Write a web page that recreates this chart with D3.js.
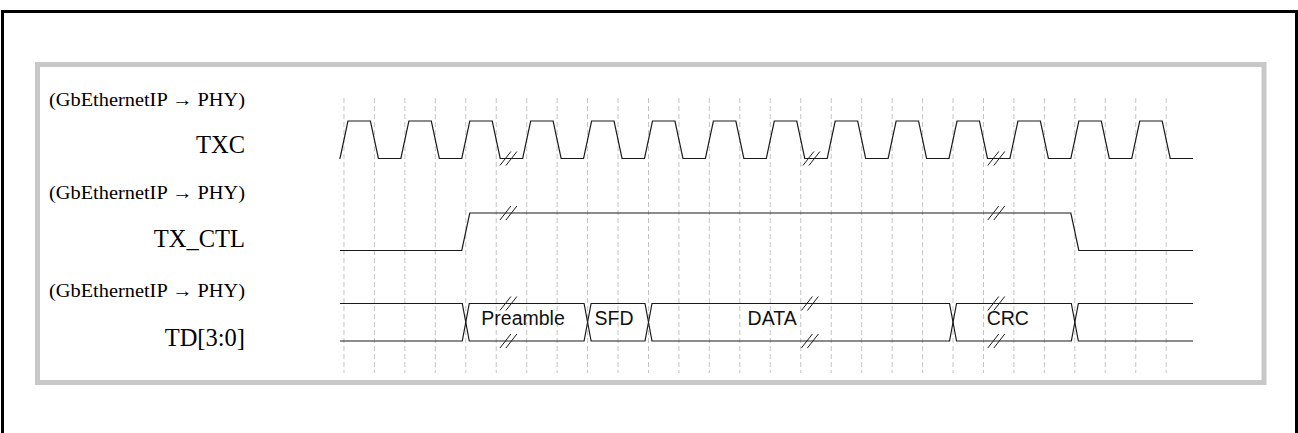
<!DOCTYPE html>
<html><head><meta charset="utf-8">
<script src="https://cdn.jsdelivr.net/npm/d3@7"></script>
<style>body{margin:0;background:#fff}svg{display:block}</style>
</head><body><svg id="c" width="1298" height="433"></svg>
<script>
// ---- data ----
const signalNames = ["TXC", "TX_CTL", "TD[3:0]"];
const directionLabels = ["(GbEthernetIP \u2192 PHY)", "(GbEthernetIP \u2192 PHY)", "(GbEthernetIP \u2192 PHY)"];
const timeWindow = [-0.13, 27.88];            // in half clock periods
const gridTicks = [0,1,2,3,4,5,6,7,8,9,10,11,12,13,14,15,16,17,18,19,20,21,22,23,24,25,26,27];
const txcEdges = [0,1,2,3,4,5,6,7,8,9,10,11,12,13,14,15,16,17,18,19,20,21,22,23,24,25,26,27];
const txcInitial = 0;
const txctlEdges = [4, 24];
const txctlInitial = 0;
const tdEdges = [4, 8, 10, 20, 24];
const tdLabels = ["", "Preamble", "SFD", "DATA", "CRC", ""];
const tdLabelPos = [null, 5.88, 8.87, 14.06, 21.8, null];
const txcBreaks = [5.4, 15.35, 21.42];
const txctlBreaks = [5.4, 21.42];
const tdBreaks = [5.4, 15.3, 21.42];

// ---- layout ----
const svg = d3.select("#c");
const x = d3.scaleLinear().domain(timeWindow).range([340, 1193]);
const rowTop = [121, 213, 303.5];
const rowH = 37.5;
const lvl = (r, v) => v ? rowTop[r] : rowTop[r] + rowH;
const ink = "#1a1a1a";

svg.append("rect").attr("x", 2.5).attr("y", 11.5).attr("width", 1294).attr("height", 440)
  .attr("fill", "none").attr("stroke", "#000").attr("stroke-width", 3);
svg.append("rect").attr("x", 37.5).attr("y", 64.5).attr("width", 1226.5).attr("height", 318)
  .attr("fill", "none").attr("stroke", "#c8c8c8").attr("stroke-width", 5);

// grid
svg.append("g").selectAll("line").data(gridTicks).join("line")
  .attr("x1", d => x(d)).attr("x2", d => x(d)).attr("y1", 98).attr("y2", 373)
  .attr("stroke", "#c4c4c4").attr("stroke-width", 1).attr("stroke-dasharray", "5,3");

// labels
const lab = svg.append("g").attr("font-family", "'Liberation Serif', 'Times New Roman', serif").attr("fill", "#000").attr("text-anchor", "end");
const dirBase = [106, 199, 297];
const nameBase = [153, 247, 346];
lab.selectAll("text.d").data(directionLabels).join("text").attr("class", "d")
  .attr("x", 245).attr("y", (d, i) => dirBase[i]).attr("font-size", 18.5)
  .attr("textLength", 196).attr("lengthAdjust", "spacingAndGlyphs").text(d => d);
lab.selectAll("text.n").data(signalNames).join("text").attr("class", "n")
  .attr("x", 245).attr("y", (d, i) => nameBase[i]).attr("font-size", 24.5).text(d => d);

// digital waveform
function digital(r, edges, init, h) {
  const p = d3.path();
  let v = init;
  p.moveTo(x(timeWindow[0]), lvl(r, v));
  edges.forEach(e => {
    p.lineTo(x(e) - h, lvl(r, v));
    v = 1 - v;
    p.lineTo(x(e) + h, lvl(r, v));
  });
  p.lineTo(x(timeWindow[1]), lvl(r, v));
  svg.append("path").attr("d", p.toString()).attr("fill", "none")
    .attr("stroke", ink).attr("stroke-width", 1.2).attr("stroke-linejoin", "miter");
}
digital(0, txcEdges, txcInitial, 4);
digital(1, txctlEdges, txctlInitial, 4);

// bus
const bounds = [timeWindow[0], ...tdEdges, timeWindow[1]];
const hb = 3.5;
const busTop = lvl(2, 1), busBot = lvl(2, 0), busMid = (busTop + busBot) / 2;
for (let s = 0; s < bounds.length - 1; s++) {
  const a = bounds[s], b = bounds[s + 1];
  const aEdge = s > 0, bEdge = s < bounds.length - 2;
  [busTop, busBot].forEach(yy => {
    const p = d3.path();
    if (aEdge) { p.moveTo(x(a), busMid); p.lineTo(x(a) + hb, yy); } else p.moveTo(x(a), yy);
    if (bEdge) { p.lineTo(x(b) - hb, yy); p.lineTo(x(b), busMid); } else p.lineTo(x(b), yy);
    svg.append("path").attr("d", p.toString()).attr("fill", "none")
      .attr("stroke", ink).attr("stroke-width", 1.2);
  });
  if (tdLabels[s]) {
    svg.append("text").attr("x", x(tdLabelPos[s])).attr("y", busMid + 3)
      .attr("text-anchor", "middle").attr("font-family", "'Liberation Sans', Arial, sans-serif")
      .attr("font-size", 19.5).attr("fill", "#111").text(tdLabels[s]);
  }
}

// break marks
function breaks(list, ys) {
  list.forEach(t => ys.forEach(yy => {
    [-3, 3].forEach(dx => {
      const cx = x(t) + dx;
      svg.append("line").attr("x1", cx - 5.5).attr("y1", yy + 7).attr("x2", cx + 5.5).attr("y2", yy - 7)
        .attr("stroke", ink).attr("stroke-width", 1);
    });
  }));
}
breaks(txcBreaks, [lvl(0, 0)]);
breaks(txctlBreaks, [lvl(1, 1)]);
breaks(tdBreaks, [busTop, busBot]);
</script></body></html>
